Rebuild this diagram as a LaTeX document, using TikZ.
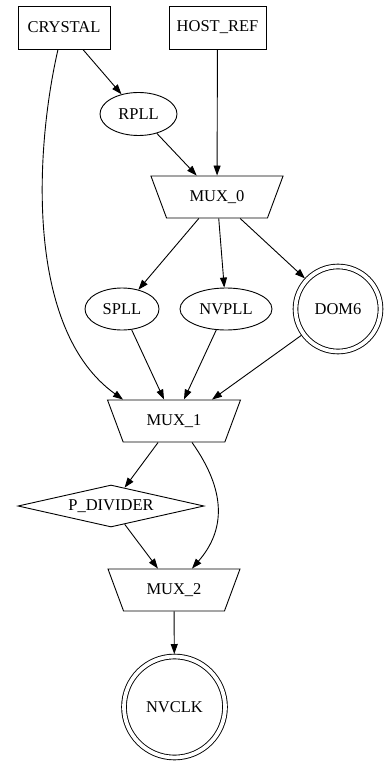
\documentclass[tikz,border=0pt]{standalone}
\usepackage{fontspec}
\setmainfont{Liberation Serif}
\usepackage{tikz}
\usetikzlibrary{positioning,arrows.meta,shapes.geometric}
\usepackage{xcolor}

\begin{document}
\begin{tikzpicture}[x=1pt, y=-1pt,
        every node/.style={font=\fontsize{16.5}{19}\selectfont, line width=0.9pt, inner sep=0pt},
        srcbox/.style={draw, rectangle, minimum height=43pt},
        pll/.style={draw, ellipse, minimum height=43pt},
        mux/.style={draw, trapezium, shape border rotate=180, trapezium stretches=true,
            trapezium left angle=57, trapezium right angle=57, minimum width=133pt, minimum height=42pt},
        sink/.style={draw, circle, double, double distance=3.8pt, outer sep=2.5pt},
        divider/.style={draw, diamond, aspect=4.4, minimum width=186pt, minimum height=42pt},
        edge/.style={line width=0.9pt, -{Triangle[length=10pt,width=7pt]}}]
        \useasboundingbox (0,0) rectangle (383,762);

        % sources
        \node[srcbox, minimum width=92pt] (crystal) at (64,27.5) {CRYSTAL};
        \node[srcbox, minimum width=97pt] (hostref) at (217.5,27.5) {HOST\_REF};
        \node[pll, minimum width=77pt] (rpll) at (138.5,114) {RPLL};

        % first stage
        \node[mux] (mux0) at (217,197) {MUX\_0};
        \node[pll, minimum width=74pt, minimum height=42pt] (spll) at (122,309) {SPLL};
        \node[pll, minimum width=92pt, minimum height=42pt] (nvpll) at (226,309) {NVPLL};
        \node[sink, minimum size=85pt] (dom6) at (338,309) {DOM6};

        % second stage
        \node[mux] (mux1) at (174,421) {MUX\_1};
        \node[divider] (pdiv) at (111,506) {P\_DIVIDER};
        \node[mux] (mux2) at (174,590) {MUX\_2};
        \node[sink, minimum size=101pt] (nvclk) at (174.5,707) {NVCLK};

        % edges
        \draw[edge] (crystal) -- (rpll);
        \draw[edge] (hostref) -- (mux0);
        \draw[edge] (rpll) -- (mux0);
        \draw[edge] ([xshift=-6pt]crystal.south) .. controls +(-23,100) and +(-98,-70) .. ([xshift=-51pt]mux1.north);
        \draw[edge] (mux0) -- (spll);
        \draw[edge] (mux0) -- (nvpll);
        \draw[edge] (mux0) -- (dom6);
        \draw[edge] (spll) -- (mux1);
        \draw[edge] (nvpll) -- (mux1);
        \draw[edge] (dom6) -- ([xshift=38pt]mux1.north);
        \draw[edge] (mux1) -- (pdiv);
        \draw[edge] ([xshift=18pt]mux1.south) .. controls +(34,48) and +(34,-39) .. ([xshift=18pt]mux2.north);
        \draw[edge] (pdiv) -- (mux2);
        \draw[edge] (mux2) -- (nvclk);
    \end{tikzpicture}
\end{document}
